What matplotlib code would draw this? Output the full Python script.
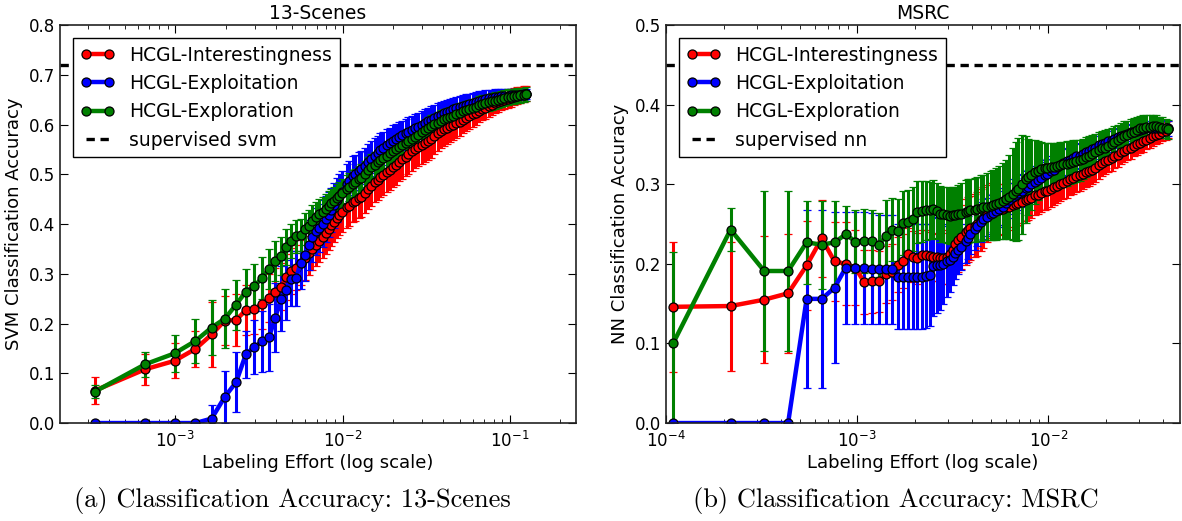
import matplotlib
matplotlib.use("Agg")
import matplotlib.pyplot as plt
from matplotlib.lines import Line2D

# 13-Scenes: number of labeled images out of the pool, and mean accuracy / std
scenes_pool = 3030
scenes_labeled = [1, 2, 3, 4, 5, 6, 7, 8, 9, 10, 11, 12, 13, 14, 15, 16, 17, 18, 19, 20, 21,
                  22, 23, 24, 25, 26, 27, 28, 29, 30,
                  32, 33, 35, 36, 38, 39,
                  41, 43, 45, 47, 49, 51, 53,
                  56, 58, 61, 63, 66, 69, 72, 75,
                  79, 82, 86, 90, 94, 98, 102,
                  107, 112, 117, 122, 127, 133,
                  139, 145, 152, 159, 166, 173,
                  181, 189, 198, 207, 216, 226,
                  236, 246, 257, 269, 281, 294,
                  307, 321, 335, 350, 365, 379]

scenes_interest = [0.065, 0.108, 0.125, 0.149, 0.178, 0.206, 0.207, 0.227, 0.229, 0.240, 0.251,
                   0.263, 0.274, 0.293, 0.306, 0.312, 0.322, 0.332, 0.342, 0.350, 0.358,
                   0.366, 0.374, 0.382, 0.390, 0.398, 0.405, 0.412, 0.418, 0.424,
                   0.434, 0.437, 0.445, 0.447, 0.452, 0.455,
                   0.463, 0.471, 0.477, 0.484, 0.489, 0.494, 0.499,
                   0.505, 0.509, 0.515, 0.519, 0.525, 0.530, 0.535, 0.540,
                   0.546, 0.550, 0.554, 0.558, 0.562, 0.566, 0.570,
                   0.577, 0.582, 0.587, 0.590, 0.593, 0.597,
                   0.600, 0.603, 0.606, 0.610, 0.614, 0.617,
                   0.621, 0.624, 0.628, 0.631, 0.634, 0.637,
                   0.640, 0.643, 0.645, 0.648, 0.650, 0.652,
                   0.654, 0.656, 0.658, 0.659, 0.661, 0.662]
scenes_interest_err = [0.027, 0.031, 0.035, 0.036, 0.066, 0.050, 0.052, 0.050, 0.050, 0.050, 0.048,
                       0.048, 0.047, 0.046, 0.046, 0.045, 0.045, 0.044, 0.044, 0.043, 0.043,
                       0.042, 0.042, 0.042, 0.042, 0.042, 0.041, 0.041, 0.041, 0.041,
                       0.041, 0.040, 0.040, 0.040, 0.040, 0.040,
                       0.040, 0.040, 0.040, 0.040, 0.040, 0.040, 0.040,
                       0.040, 0.040, 0.040, 0.040, 0.039, 0.039, 0.039, 0.039,
                       0.039, 0.038, 0.038, 0.038, 0.038, 0.037, 0.037,
                       0.036, 0.036, 0.035, 0.034, 0.033, 0.032,
                       0.031, 0.030, 0.029, 0.028, 0.027, 0.026,
                       0.025, 0.024, 0.023, 0.022, 0.022, 0.021,
                       0.021, 0.020, 0.020, 0.019, 0.019, 0.018,
                       0.018, 0.017, 0.017, 0.016, 0.016, 0.015]

scenes_exploit = [0.0, 0.0, 0.0, 0.0, 0.009, 0.053, 0.082, 0.138, 0.153, 0.164, 0.172,
                  0.212, 0.250, 0.268, 0.290, 0.291, 0.322, 0.338, 0.358, 0.373, 0.385,
                  0.392, 0.401, 0.410, 0.419, 0.428, 0.438, 0.448, 0.457, 0.465,
                  0.480, 0.487, 0.497, 0.501, 0.507, 0.510,
                  0.517, 0.524, 0.531, 0.537, 0.542, 0.548, 0.552,
                  0.558, 0.562, 0.567, 0.570, 0.575, 0.578, 0.582, 0.585,
                  0.589, 0.592, 0.595, 0.599, 0.603, 0.607, 0.610,
                  0.614, 0.617, 0.620, 0.623, 0.625, 0.628,
                  0.631, 0.633, 0.635, 0.638, 0.640, 0.642,
                  0.644, 0.646, 0.648, 0.650, 0.652, 0.653,
                  0.654, 0.655, 0.656, 0.657, 0.658, 0.658,
                  0.659, 0.659, 0.660, 0.660, 0.660, 0.661]
scenes_exploit_err = [0.0, 0.0, 0.0, 0.0, 0.027, 0.052, 0.060, 0.048, 0.055, 0.062, 0.068,
                      0.070, 0.065, 0.060, 0.055, 0.055, 0.052, 0.052, 0.050, 0.050, 0.048,
                      0.048, 0.047, 0.046, 0.046, 0.045, 0.045, 0.044, 0.043, 0.042,
                      0.040, 0.040, 0.039, 0.038, 0.038, 0.037,
                      0.036, 0.036, 0.035, 0.035, 0.034, 0.034, 0.033,
                      0.033, 0.032, 0.032, 0.031, 0.031, 0.030, 0.030, 0.030,
                      0.029, 0.029, 0.029, 0.028, 0.028, 0.027, 0.027,
                      0.026, 0.026, 0.025, 0.025, 0.024, 0.024,
                      0.023, 0.022, 0.022, 0.021, 0.021, 0.020,
                      0.020, 0.019, 0.019, 0.018, 0.018, 0.017,
                      0.016, 0.016, 0.015, 0.015, 0.014, 0.014,
                      0.013, 0.013, 0.012, 0.011, 0.011, 0.010]

scenes_explore = [0.063, 0.118, 0.140, 0.165, 0.192, 0.210, 0.238, 0.264, 0.275, 0.292, 0.310,
                  0.326, 0.336, 0.354, 0.366, 0.375, 0.378, 0.390, 0.396, 0.407, 0.415,
                  0.420, 0.424, 0.430, 0.436, 0.442, 0.446, 0.452, 0.457, 0.462,
                  0.470, 0.474, 0.481, 0.484, 0.490, 0.493,
                  0.500, 0.508, 0.514, 0.519, 0.524, 0.528, 0.532,
                  0.537, 0.542, 0.547, 0.550, 0.555, 0.559, 0.563, 0.567,
                  0.571, 0.575, 0.579, 0.584, 0.588, 0.593, 0.597,
                  0.601, 0.604, 0.608, 0.611, 0.613, 0.616,
                  0.618, 0.621, 0.624, 0.627, 0.629, 0.631,
                  0.634, 0.636, 0.639, 0.641, 0.643, 0.645,
                  0.647, 0.648, 0.650, 0.652, 0.653, 0.655,
                  0.656, 0.657, 0.658, 0.659, 0.660, 0.661]
scenes_explore_err = [0.013, 0.025, 0.037, 0.045, 0.056, 0.060, 0.050, 0.045, 0.045, 0.042, 0.040,
                      0.040, 0.038, 0.036, 0.035, 0.034, 0.033, 0.032, 0.032, 0.031, 0.030,
                      0.030, 0.030, 0.030, 0.030, 0.029, 0.029, 0.029, 0.028, 0.028,
                      0.028, 0.028, 0.027, 0.027, 0.027, 0.027,
                      0.026, 0.026, 0.026, 0.025, 0.025, 0.025, 0.025,
                      0.025, 0.025, 0.024, 0.024, 0.024, 0.024, 0.024, 0.023,
                      0.023, 0.023, 0.023, 0.022, 0.022, 0.022, 0.022,
                      0.021, 0.021, 0.021, 0.021, 0.020, 0.020,
                      0.020, 0.020, 0.019, 0.019, 0.019, 0.019,
                      0.018, 0.018, 0.018, 0.018, 0.017, 0.017,
                      0.017, 0.017, 0.016, 0.016, 0.016, 0.016,
                      0.015, 0.015, 0.015, 0.015, 0.014, 0.014]

scenes_supervised = 0.72

# MSRC
msrc_pool = 9190
msrc_labeled = [1, 2, 3, 4, 5, 6, 7, 8, 9, 10,
                11, 12, 13, 14, 15, 16, 17, 18, 19, 20,
                21, 22, 23, 24, 25, 26, 27, 28, 29, 30, 31, 32,
                34, 35, 36, 38, 39, 41, 42, 44, 46, 47, 49, 51, 53, 55, 57,
                60, 62, 64, 67, 70, 72, 75, 78, 81, 84,
                88, 91, 95, 98, 102, 106, 110, 115, 119, 124,
                129, 134, 139, 145, 150, 156, 162, 169, 175, 182,
                189, 197, 204, 212, 221, 229, 238, 248, 257, 267,
                278, 289, 300, 312, 324, 337, 350, 364, 378, 390]

msrc_interest = [0.146, 0.147, 0.155, 0.163, 0.198, 0.232, 0.203, 0.200, 0.195, 0.177,
                 0.178, 0.178, 0.187, 0.190, 0.199, 0.204, 0.212, 0.209, 0.207, 0.211,
                 0.211, 0.210, 0.209, 0.208, 0.207, 0.207, 0.209, 0.212, 0.218, 0.225, 0.230, 0.234,
                 0.240, 0.243, 0.245, 0.248, 0.250, 0.255, 0.258, 0.263, 0.267, 0.267, 0.268, 0.268,
                 0.269, 0.271, 0.272,
                 0.274, 0.275, 0.276, 0.278, 0.280, 0.281, 0.283, 0.286, 0.287, 0.289,
                 0.291, 0.292, 0.294, 0.296, 0.298, 0.300, 0.302, 0.304, 0.306, 0.308,
                 0.310, 0.311, 0.313, 0.315, 0.316, 0.318, 0.321, 0.324, 0.327, 0.329,
                 0.331, 0.333, 0.335, 0.337, 0.340, 0.342, 0.344, 0.346, 0.348, 0.350,
                 0.352, 0.354, 0.356, 0.358, 0.360, 0.362, 0.363, 0.365, 0.367, 0.369]
msrc_interest_err = [0.082, 0.081, 0.080, 0.075, 0.056, 0.048, 0.050, 0.052, 0.047, 0.040,
                     0.040, 0.038, 0.036, 0.035, 0.035, 0.034, 0.033, 0.032, 0.032, 0.031,
                     0.031, 0.030, 0.030, 0.030, 0.031, 0.032, 0.034, 0.035, 0.037, 0.038, 0.040, 0.040,
                     0.041, 0.041, 0.040, 0.040, 0.040, 0.039, 0.038, 0.036, 0.035, 0.034, 0.033, 0.032,
                     0.031, 0.030, 0.029,
                     0.028, 0.028, 0.027, 0.027, 0.026, 0.026, 0.025, 0.025, 0.024, 0.024,
                     0.023, 0.023, 0.022, 0.022, 0.022, 0.021, 0.021, 0.021, 0.020, 0.020,
                     0.020, 0.019, 0.019, 0.019, 0.018, 0.018, 0.018, 0.017, 0.017, 0.016,
                     0.016, 0.016, 0.015, 0.015, 0.015, 0.014, 0.014, 0.014, 0.013, 0.013,
                     0.013, 0.013, 0.012, 0.012, 0.012, 0.012, 0.011, 0.011, 0.011, 0.011]

msrc_exploit = [0.0, 0.0, 0.0, 0.0, 0.156, 0.156, 0.170, 0.195, 0.195, 0.195,
                0.194, 0.193, 0.193, 0.193, 0.184, 0.184, 0.184, 0.184, 0.184, 0.184,
                0.185, 0.186, 0.197, 0.198, 0.198, 0.200, 0.203, 0.205, 0.209, 0.213, 0.217, 0.221,
                0.229, 0.233, 0.238, 0.244, 0.248, 0.253, 0.256, 0.259, 0.262, 0.264, 0.266, 0.269,
                0.272, 0.276, 0.280,
                0.284, 0.286, 0.289, 0.292, 0.295, 0.297, 0.300, 0.303, 0.305, 0.308,
                0.311, 0.313, 0.316, 0.318, 0.322, 0.324, 0.327, 0.329, 0.331, 0.333,
                0.335, 0.336, 0.338, 0.340, 0.342, 0.344, 0.346, 0.349, 0.351, 0.352,
                0.354, 0.356, 0.357, 0.359, 0.361, 0.362, 0.363, 0.365, 0.366, 0.367,
                0.368, 0.369, 0.370, 0.370, 0.371, 0.371, 0.371, 0.371, 0.370, 0.370]
msrc_exploit_err = [0.0, 0.0, 0.0, 0.0, 0.112, 0.112, 0.095, 0.070, 0.070, 0.070,
                    0.070, 0.068, 0.068, 0.068, 0.066, 0.066, 0.066, 0.066, 0.066, 0.066,
                    0.065, 0.064, 0.062, 0.060, 0.056, 0.050, 0.045, 0.040, 0.036, 0.032, 0.030, 0.029,
                    0.028, 0.027, 0.026, 0.026, 0.025, 0.025, 0.025, 0.024, 0.024, 0.024, 0.024, 0.023,
                    0.023, 0.023, 0.022,
                    0.022, 0.022, 0.022, 0.021, 0.021, 0.021, 0.020, 0.020, 0.020, 0.020,
                    0.019, 0.019, 0.019, 0.018, 0.018, 0.018, 0.017, 0.017, 0.017, 0.016,
                    0.016, 0.016, 0.015, 0.015, 0.015, 0.014, 0.014, 0.014, 0.013, 0.013,
                    0.013, 0.013, 0.012, 0.012, 0.012, 0.012, 0.011, 0.011, 0.011, 0.011,
                    0.010, 0.010, 0.010, 0.010, 0.010, 0.010, 0.010, 0.010, 0.010, 0.010]

msrc_explore = [0.100, 0.243, 0.191, 0.191, 0.227, 0.224, 0.227, 0.237, 0.228, 0.229,
                0.229, 0.224, 0.235, 0.243, 0.241, 0.251, 0.253, 0.256, 0.265, 0.266,
                0.267, 0.267, 0.269, 0.266, 0.263, 0.262, 0.261, 0.260, 0.261, 0.261, 0.262, 0.263,
                0.265, 0.266, 0.267, 0.268, 0.269, 0.270, 0.271, 0.272, 0.273, 0.274, 0.275, 0.277,
                0.279, 0.281, 0.284,
                0.288, 0.291, 0.294, 0.300, 0.306, 0.309, 0.312, 0.315, 0.317, 0.319,
                0.320, 0.321, 0.322, 0.322, 0.323, 0.324, 0.325, 0.326, 0.327, 0.328,
                0.329, 0.330, 0.332, 0.334, 0.336, 0.338, 0.340, 0.343, 0.345, 0.346,
                0.348, 0.350, 0.353, 0.355, 0.358, 0.360, 0.362, 0.364, 0.366, 0.368,
                0.370, 0.371, 0.372, 0.372, 0.373, 0.373, 0.372, 0.371, 0.370, 0.369]
msrc_explore_err = [0.115, 0.027, 0.100, 0.100, 0.052, 0.055, 0.052, 0.036, 0.040, 0.040,
                    0.038, 0.040, 0.045, 0.040, 0.040, 0.040, 0.040, 0.040, 0.039, 0.038,
                    0.037, 0.036, 0.036, 0.035, 0.035, 0.035, 0.035, 0.035, 0.036, 0.036, 0.037, 0.038,
                    0.040, 0.040, 0.040, 0.040, 0.040, 0.041, 0.041, 0.042, 0.043, 0.044, 0.045, 0.046,
                    0.048, 0.050, 0.053,
                    0.058, 0.062, 0.064, 0.062, 0.055, 0.048, 0.044, 0.040, 0.037, 0.034,
                    0.032, 0.031, 0.030, 0.030, 0.029, 0.029, 0.028, 0.028, 0.027, 0.027,
                    0.026, 0.026, 0.025, 0.025, 0.024, 0.024, 0.023, 0.023, 0.022, 0.022,
                    0.021, 0.021, 0.020, 0.020, 0.019, 0.019, 0.018, 0.018, 0.017, 0.017,
                    0.016, 0.016, 0.015, 0.015, 0.014, 0.014, 0.013, 0.013, 0.012, 0.012]

msrc_supervised = 0.45

SERIES = ["HCGL-Interestingness", "HCGL-Exploitation", "HCGL-Exploration"]
COLORS = ["#ff0000", "#0000ff", "#008000"]
DASH = (0, (2.5, 1.7))


def draw_panel(ax, labeled, pool, series, supervised, sup_label, title, ylabel, xlim, ylim, yticks):
    effort = [n / pool for n in labeled]
    for (vals, errs), col in zip(series, COLORS):
        ax.errorbar(effort, vals, yerr=errs, fmt="-o", color=col, ecolor=col,
                    lw=3.2, elinewidth=2.2, capsize=3, capthick=1.8,
                    ms=6.5, mfc=col, mec="k", mew=0.9)
    ax.axhline(supervised, color="k", lw=2.4, linestyle=DASH)

    ax.set_xscale("log")
    ax.set_xlim(*xlim)
    ax.set_ylim(*ylim)
    ax.set_yticks(yticks)
    ax.set_title(title, fontsize=13.5, pad=4)
    ax.set_ylabel(ylabel, fontsize=13)
    ax.set_xlabel("Labeling Effort (log scale)", fontsize=13, labelpad=2)
    ax.tick_params(which="both", direction="in", top=True, right=True, labelsize=12)
    ax.tick_params(which="major", length=6)
    ax.tick_params(which="minor", length=3)
    ax.tick_params(axis="x", pad=6)
    for sp in ax.spines.values():
        sp.set_linewidth(1.2)
        sp.set_color("#222222")

    handles = [Line2D([], [], color=c, lw=3.2, marker="o", ms=6.5, mfc=c, mec="k", mew=0.9)
               for c in COLORS]
    handles.append(Line2D([], [], color="k", lw=2.4, linestyle=DASH))
    leg = ax.legend(handles, SERIES + [sup_label], loc="upper left", fontsize=13.5,
                    numpoints=2, fancybox=False, handlelength=1.8, borderaxespad=0.7,
                    framealpha=1)
    leg.get_frame().set_edgecolor("k")
    leg.get_frame().set_linewidth(1.0)


fig = plt.figure(figsize=(11.82, 5.21), dpi=100)
ax1 = fig.add_axes([0.0508, 0.188, 0.4365, 0.764])
ax2 = fig.add_axes([0.5635, 0.188, 0.4349, 0.764])

draw_panel(ax1, scenes_labeled, scenes_pool,
           [(scenes_interest, scenes_interest_err),
            (scenes_exploit, scenes_exploit_err),
            (scenes_explore, scenes_explore_err)],
           scenes_supervised, "supervised svm", "13-Scenes",
           "SVM Classification Accuracy", (2.05e-4, 0.248), (0, 0.8),
           [0.0, 0.1, 0.2, 0.3, 0.4, 0.5, 0.6, 0.7, 0.8])

draw_panel(ax2, msrc_labeled, msrc_pool,
           [(msrc_interest, msrc_interest_err),
            (msrc_exploit, msrc_exploit_err),
            (msrc_explore, msrc_explore_err)],
           msrc_supervised, "supervised nn", "MSRC",
           "NN Classification Accuracy", (1e-4, 0.049), (0, 0.5),
           [0.0, 0.1, 0.2, 0.3, 0.4, 0.5])

fig.text(0.247, 0.04, "(a) Classification Accuracy: 13-Scenes", ha="center", va="center",
         family=["cmr10", "DejaVu Serif"], fontsize=19)
fig.text(0.758, 0.04, "(b) Classification Accuracy: MSRC", ha="center", va="center",
         family=["cmr10", "DejaVu Serif"], fontsize=19)

fig.savefig("out.png", dpi=100)
